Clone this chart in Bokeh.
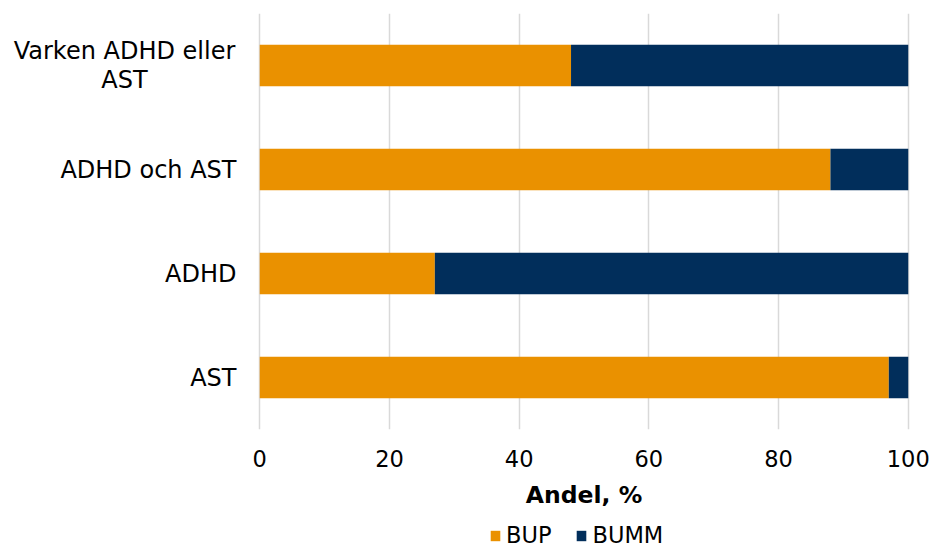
import numpy as np
from bokeh.plotting import figure
from bokeh.layouts import column, row
from bokeh.models import Range1d, FactorRange, Legend, LegendItem, FixedTicker, ColumnDataSource
from bokeh.core.properties import value
from bokeh.embed import file_html
from bokeh.resources import INLINE

# Categories listed bottom to top
categories = ["AST", "ADHD", "ADHD och AST", "Varken ADHD eller AST"]
# Category text as printed, one entry per line
category_lines = [["AST"], ["ADHD"], ["ADHD och AST"], ["Varken ADHD eller", "AST"]]
bup = [97, 27, 88, 48]
bumm = [3, 73, 12, 52]
series = ["BUP", "BUMM"]
x_ticks = [0, 20, 40, 60, 80, 100]

ORANGE = "#EA9100"
NAVY = "#012E5B"
FONT = "DejaVu Sans"
CAT_FS = "24px"
TICK_FS = "22.5px"
LINE_STEP = 29  # px between wrapped category lines

H_MAIN, H_LEG = 511, 36
TOP, BOTTOM = 13, 82
LAB_W = 240

src = ColumnDataSource(dict(cat=categories, bup=bup, bumm=bumm))
y_range = FactorRange(*categories, range_padding=0)

# Main chart
p = figure(width=934 - LAB_W, height=H_MAIN, output_backend="svg", toolbar_location=None,
           x_range=Range1d(-0.5, 100.5), y_range=y_range,
           min_border_left=16, min_border_right=23, min_border_top=TOP,
           min_border_bottom=BOTTOM)
p.outline_line_color = None
p.background_fill_color = "white"

p.hbar_stack(["bup", "bumm"], y="cat", height=0.4, color=[ORANGE, NAVY],
             line_color=None, source=src)

p.yaxis.visible = False
p.ygrid.visible = False

p.xaxis.ticker = FixedTicker(ticks=x_ticks)
p.xaxis.axis_line_color = None
p.xaxis.major_tick_line_color = None
p.xaxis.major_tick_in = 0
p.xaxis.major_tick_out = 0
p.xaxis.minor_tick_line_color = None
p.xaxis.major_label_text_font = FONT
p.xaxis.major_label_text_font_size = TICK_FS
p.xaxis.major_label_text_color = "#000000"
p.xaxis.major_label_standoff = 20
p.xaxis.axis_label = "Andel, %"
p.xaxis.axis_label_text_font = FONT
p.xaxis.axis_label_text_font_size = "23.5px"
p.xaxis.axis_label_text_font_style = "bold"
p.xaxis.axis_label_text_color = "#000000"
p.xaxis.axis_label_standoff = 11

p.xgrid.ticker = FixedTicker(ticks=x_ticks)
p.xgrid.grid_line_color = "#D9D9D9"
p.xgrid.grid_line_width = 1.5

# Category labels, in a strip sharing the chart's category scale
lab = figure(width=LAB_W, height=H_MAIN, output_backend="svg", toolbar_location=None,
             x_range=Range1d(0, 1), y_range=y_range,
             min_border_left=0, min_border_right=0, min_border_top=TOP,
             min_border_bottom=BOTTOM)
lab.axis.visible = False
lab.grid.visible = False
lab.outline_line_color = None

edge = lab.x_range.end
one = dict(x=[], y=[], t=[])
wrapped = dict(x=[], y=[], t=[], dy=[])
for cat, lines in zip(categories, category_lines):
    if len(lines) == 1:
        one["x"].append(edge); one["y"].append(cat); one["t"].append(lines[0])
    else:
        for k, line in enumerate(lines):
            wrapped["x"].append(edge); wrapped["y"].append(cat); wrapped["t"].append(line)
            wrapped["dy"].append((k - (len(lines) - 1) / 2) * LINE_STEP)

lab.text(x="x", y="y", text="t", source=ColumnDataSource(one), x_offset=-4,
         text_align="right", text_baseline="middle", text_font=value(FONT),
         text_font_size=CAT_FS, text_color="#000000")
lab.text(x="x", y="y", text="t", source=ColumnDataSource(wrapped), x_offset=-116,
         y_offset="dy", text_align="center", text_baseline="middle",
         text_font=value(FONT), text_font_size=CAT_FS, text_color="#000000")

# Legend strip beneath the chart
leg = figure(width=934, height=H_LEG, output_backend="svg", toolbar_location=None,
             x_range=Range1d(0, 1), y_range=Range1d(0, 1),
             min_border_left=256, min_border_right=23, min_border_top=0,
             min_border_bottom=0)
leg.axis.visible = False
leg.grid.visible = False
leg.outline_line_color = None
swatches = [leg.hbar(y=[np.nan], right=[np.nan], height=0.4, color=c, line_color=None)
            for c in [ORANGE, NAVY]]
legend = Legend(items=[LegendItem(label=s, renderers=[r]) for s, r in zip(series, swatches)],
                orientation="horizontal", location=(233, -1),
                label_text_font=FONT, label_text_font_size=TICK_FS,
                label_text_color="#000000", label_height=13,
                glyph_width=12, glyph_height=13, label_standoff=5, spacing=24,
                padding=0, margin=0, border_line_color=None,
                background_fill_alpha=0)
leg.add_layout(legend, "center")

layout = column(row(lab, p, spacing=0), leg, spacing=0)
open("out.html", "w").write(file_html(layout, INLINE))
